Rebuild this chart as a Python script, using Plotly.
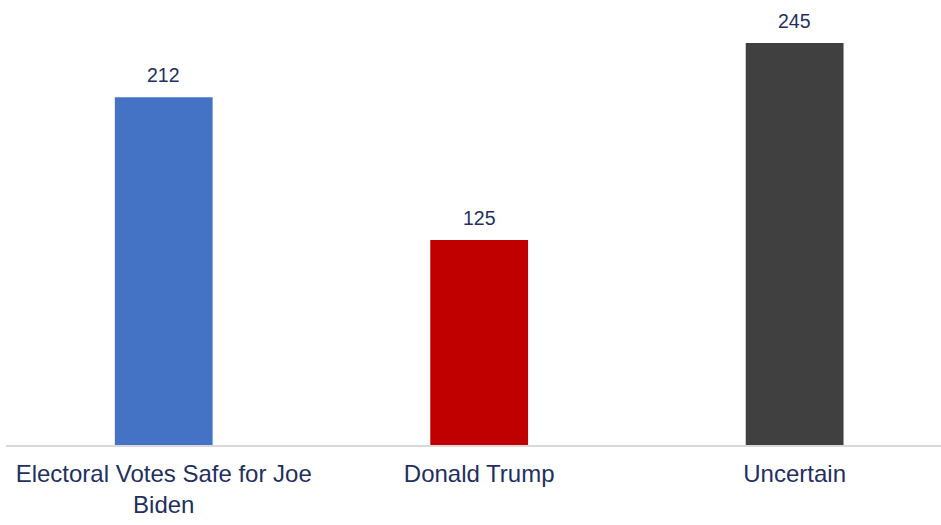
import plotly.graph_objects as go

categories = ["Electoral Votes Safe for Joe<br>Biden", "Donald Trump", "Uncertain"]
values = [212, 125, 245]
colors = ["#4472C4", "#C00000", "#404040"]

label_color = "#1F3060"

fig = go.Figure()
fig.add_trace(go.Bar(
    x=categories, y=values, marker_color=colors, width=0.31,
    marker_line_width=0, hoverinfo="skip",
))
for c, v in zip(categories, values):
    fig.add_annotation(x=c, y=v, text=str(v), showarrow=False,
                       yanchor="bottom", yshift=9,
                       font=dict(family="Liberation Sans, Arial", size=19.5, color=label_color))

fig.update_layout(
    width=941, height=525,
    margin=dict(l=6, r=0, t=0, b=80, autoexpand=False),
    plot_bgcolor="white", paper_bgcolor="white",
    showlegend=False,
    font=dict(family="Liberation Sans, Arial", color=label_color),
)
fig.update_xaxes(range=[-0.5, 2.464], showline=True, linecolor="#D9D9D9", linewidth=2,
                 ticks="", tickfont=dict(size=24, color=label_color), showgrid=False,
                 automargin=False, ticklabelstandoff=6)
fig.update_yaxes(range=[0, 271.2], visible=False, showgrid=False)

fig.write_html("out.html", config={"displayModeBar": False},
               post_script="document.body.style.margin='0';")
